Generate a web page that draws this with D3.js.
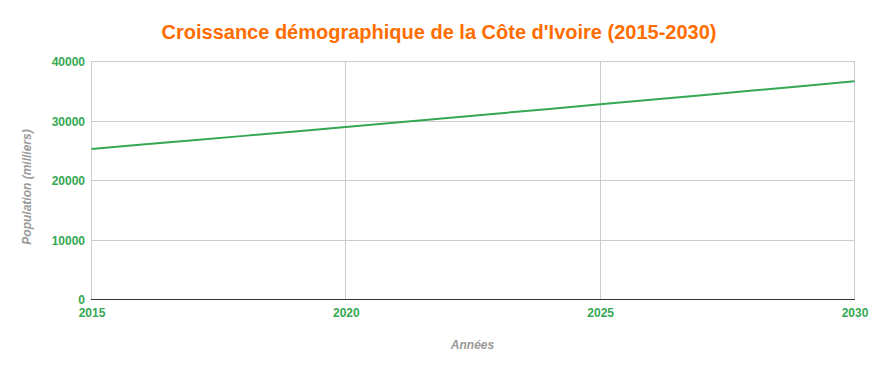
<!DOCTYPE html>
<html>
<head>
<meta charset="utf-8">
<script src="https://cdn.jsdelivr.net/npm/d3@7"></script>
<style>
  body { margin: 0; background: #fff; }
  svg text { font-family: "Liberation Sans", Arial, sans-serif; }
</style>
</head>
<body>
<div id="chart"></div>
<script>
// population (milliers), values
const years = [2015, 2016, 2017, 2018, 2019, 2020, 2021, 2022, 2023, 2024, 2025, 2026, 2027, 2028, 2029, 2030];
const population = [25300, 26030, 26770, 27500, 28250, 29000, 29750, 30500, 31270, 32030, 32800, 33570, 34340, 35120, 35900, 36700];
const xTicks = [2015, 2020, 2025, 2030];
const yTicks = [0, 10000, 20000, 30000, 40000];

const width = 873, height = 371;
const margin = { top: 61, right: 19, bottom: 71, left: 91 };
const innerW = width - margin.left - margin.right;
const innerH = height - margin.top - margin.bottom;

const data = years.map((y, i) => ({ year: y, value: population[i] }));

const svg = d3.select("#chart").append("svg")
  .attr("width", width)
  .attr("height", height);

// title
svg.append("text")
  .attr("x", 439)
  .attr("y", 39)
  .attr("text-anchor", "middle")
  .attr("font-size", "20px")
  .attr("font-weight", "bold")
  .attr("fill", "#ff6d00")
  .text("Croissance démographique de la Côte d'Ivoire (2015-2030)");

const g = svg.append("g")
  .attr("transform", "translate(" + margin.left + "," + margin.top + ")");

const xScale = d3.scaleLinear().domain([2015, 2030]).range([0.5, innerW + 0.5]);
const yScale = d3.scaleLinear().domain([0, 40000]).range([innerH - 0.5, 0.5]);

// gridlines
g.append("g")
  .selectAll("line")
  .data(yTicks.filter((d) => d > 0))
  .join("line")
  .attr("x1", 0).attr("x2", innerW)
  .attr("y1", (d) => Math.floor(yScale(d)) + 0.5)
  .attr("y2", (d) => Math.floor(yScale(d)) + 0.5)
  .attr("stroke", "#cccccc");
g.append("g")
  .selectAll("line")
  .data(xTicks)
  .join("line")
  .attr("x1", (d) => Math.floor(xScale(d)) + 0.5)
  .attr("x2", (d) => Math.floor(xScale(d)) + 0.5)
  .attr("y1", 0).attr("y2", innerH)
  .attr("stroke", "#cccccc");

// y axis labels
const yAxis = d3.axisLeft(yScale).tickValues(yTicks).tickSize(0).tickPadding(6).tickFormat(d3.format("d"));
g.append("g")
  .call(yAxis)
  .call((a) => a.select(".domain").remove())
  .selectAll("text")
  .attr("font-size", "12px")
  .attr("font-weight", "bold")
  .attr("fill", "#34a853")
  .attr("dy", "0.35em");

// x axis labels
const xAxis = d3.axisBottom(xScale).tickValues(xTicks).tickSize(0).tickPadding(8).tickFormat(d3.format("d"));
g.append("g")
  .attr("transform", "translate(0," + innerH + ")")
  .call(xAxis)
  .call((a) => a.select(".domain").remove())
  .selectAll("text")
  .attr("font-size", "12px")
  .attr("font-weight", "bold")
  .attr("fill", "#34a853");

// baseline
g.append("line")
  .attr("x1", 0).attr("x2", innerW + 1)
  .attr("y1", innerH - 0.5).attr("y2", innerH - 0.5)
  .attr("stroke", "#333333");

// line
const lineGen = d3.line()
  .x((d) => xScale(d.year))
  .y((d) => yScale(d.value));
g.append("path")
  .datum(data)
  .attr("d", lineGen)
  .attr("fill", "none")
  .attr("stroke", "#34a853")
  .attr("stroke-width", 2);

// axis titles
svg.append("text")
  .attr("x", margin.left + innerW / 2)
  .attr("y", 349)
  .attr("text-anchor", "middle")
  .attr("font-size", "12px")
  .attr("font-weight", "bold")
  .attr("font-style", "italic")
  .attr("fill", "#999999")
  .text("Années");

svg.append("text")
  .attr("transform", "translate(31,187) rotate(-90)")
  .attr("text-anchor", "middle")
  .attr("font-size", "12px")
  .attr("font-weight", "bold")
  .attr("font-style", "italic")
  .attr("fill", "#999999")
  .text("Population (milliers)");
</script>
</body>
</html>
